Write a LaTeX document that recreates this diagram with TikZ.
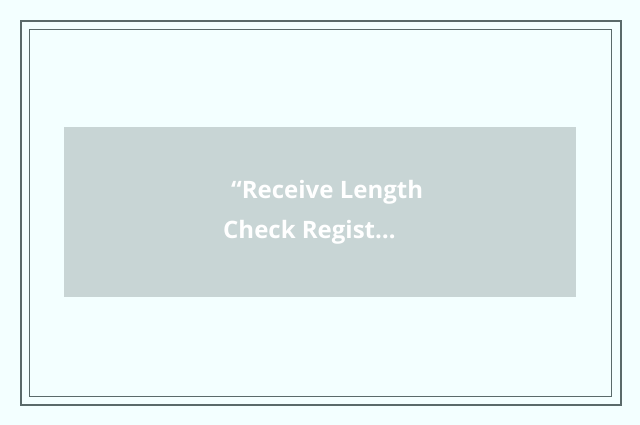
\documentclass[tikz,border=0pt]{standalone}
\usepackage{fontspec}
\setmainfont{Open Sans}
\definecolor{bgc}{HTML}{F3FFFF}
\definecolor{framec}{HTML}{5A6A6A}
\definecolor{boxc}{HTML}{C8D5D5}
\tikzset{
  lbl/.style={anchor=base west, inner sep=0pt, text=white, font=\fontsize{24}{28}\selectfont\bfseries},
  card/.style={fill=boxc, draw=none}
}
\begin{document}
\begin{tikzpicture}[x=1pt,y=-1pt]
\useasboundingbox (0,0) rectangle (640,425);
\fill[bgc] (0,0) rectangle (640,425);
\draw[framec, line width=2] (21,21) rectangle (621,405);
\draw[framec, line width=1] (29.5,29.5) rectangle (611.5,396.5);
\node[card, minimum width=512, minimum height=170, inner sep=0, anchor=north west] (box) at (64,127) {};
\node[lbl] (l1) at (231,198) {“Receive Length};
\node[lbl] (l2) at (223,238) {Check Regist…};
\end{tikzpicture}
\end{document}
